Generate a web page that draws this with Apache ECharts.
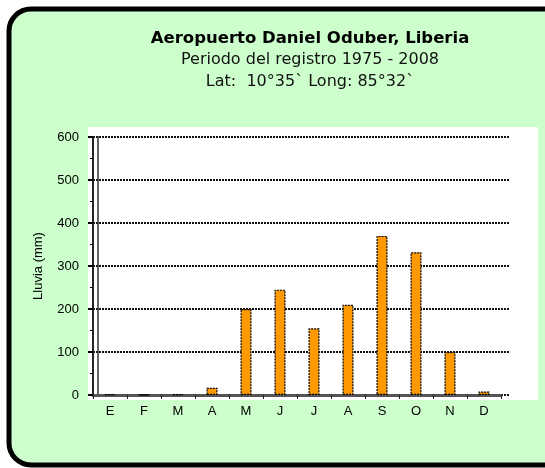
<!DOCTYPE html>
<html><head><meta charset="utf-8">
<script src="https://cdn.jsdelivr.net/npm/echarts@6/dist/echarts.min.js"></script>
<style>html,body{margin:0;padding:0;background:#fff}#c{width:545px;height:468px}</style>
</head><body><div id="c"></div>
<script>
const months = ['E','F','M','A','M','J','J','A','S','O','N','D'];
const rain = [2, 1, 2, 17, 200, 245, 155, 210, 370, 332, 100, 8];
const yTicks = [0, 100, 200, 300, 400, 500, 600];
const titleText = 'Aeropuerto Daniel Oduber, Liberia';
const subLines = ['Periodo del registro 1975 - 2008', 'Lat:  10°35` Long: 85°32`'];
const yName = 'Lluvia (mm)';

const F = 'DejaVu Sans, Verdana, sans-serif';
const chart = echarts.init(document.getElementById('c'), null, {renderer: 'canvas'});
chart.setOption({
  animation: false,
  backgroundColor: '#fff',
  graphic: [
    {type: 'rect', z: -10, shape: {x: 9, y: 9, width: 560, height: 456, r: 22},
     style: {fill: '#CCFFCC', stroke: '#000', lineWidth: 5}},
    {type: 'rect', z: -9, shape: {x: 88, y: 127, width: 450, height: 273},
     style: {fill: '#fff'}},
    {type: 'line', z: 5, shape: {x1: 98, y1: 136, x2: 98, y2: 394},
     style: {stroke: '#333', lineWidth: 1.5}}
  ],
  title: [
    {text: titleText, left: 305, top: 25, textAlign: 'center',
     textStyle: {fontFamily: F, fontSize: 16.5, fontWeight: 'bold', color: '#000'}},
    {text: subLines[0], left: 305, top: 47, textAlign: 'center',
     textStyle: {fontFamily: F, fontSize: 16, fontWeight: 'normal', color: '#111'}},
    {text: subLines[1], left: 305, top: 69, textAlign: 'center',
     textStyle: {fontFamily: F, fontSize: 16, fontWeight: 'normal', color: '#111'}}
  ],
  grid: [
    {left: 93, right: 44, top: 137, bottom: 73},
    {left: 93, right: 35, top: 137, bottom: 73}
  ],
  xAxis: [{
    type: 'category', data: months, gridIndex: 0,
    axisLine: {lineStyle: {color: '#555', width: 3}},
    axisTick: {show: true, length: 4, lineStyle: {color: '#222'}},
    axisLabel: {color: '#000', fontSize: 13, fontFamily: 'Liberation Sans, Arial', margin: 10},
    splitLine: {show: false}
  }, {
    type: 'value', gridIndex: 1, min: 0, max: 1, show: false
  }],
  yAxis: [{
    type: 'value', min: 0, max: 600, interval: 100, gridIndex: 0,
    name: yName, nameLocation: 'middle', nameGap: 48, nameRotate: 90,
    nameTextStyle: {color: '#000', fontSize: 13, fontFamily: 'Liberation Sans, Arial'},
    axisLine: {show: true, lineStyle: {color: '#333', width: 2}},
    axisTick: {show: true, length: 5, lineStyle: {color: '#000', width: 2}},
    minorTick: {show: true, splitNumber: 2, length: 3, lineStyle: {color: '#000'}},
    axisLabel: {color: '#000', fontSize: 13, fontFamily: 'Liberation Sans, Arial', margin: 14,
      formatter: v => yTicks.includes(v) ? String(v) : ''},
    splitLine: {show: false}
  }, {
    type: 'value', min: 0, max: 600, interval: 100, gridIndex: 1, position: 'right',
    axisLine: {show: true, lineStyle: {color: '#222', width: 1.5, type: [2, 1]}},
    axisTick: {show: false}, axisLabel: {show: false},
    splitLine: {show: true, lineStyle: {color: '#111', width: 2, type: [2, 1]}}
  }],
  series: [{
    type: 'bar', data: rain, barWidth: 11, xAxisIndex: 0, yAxisIndex: 0, z: 3,
    itemStyle: {color: '#FF9900', borderColor: '#000', borderWidth: 1.2, borderType: [2, 1]}
  }]
});
</script></body></html>
